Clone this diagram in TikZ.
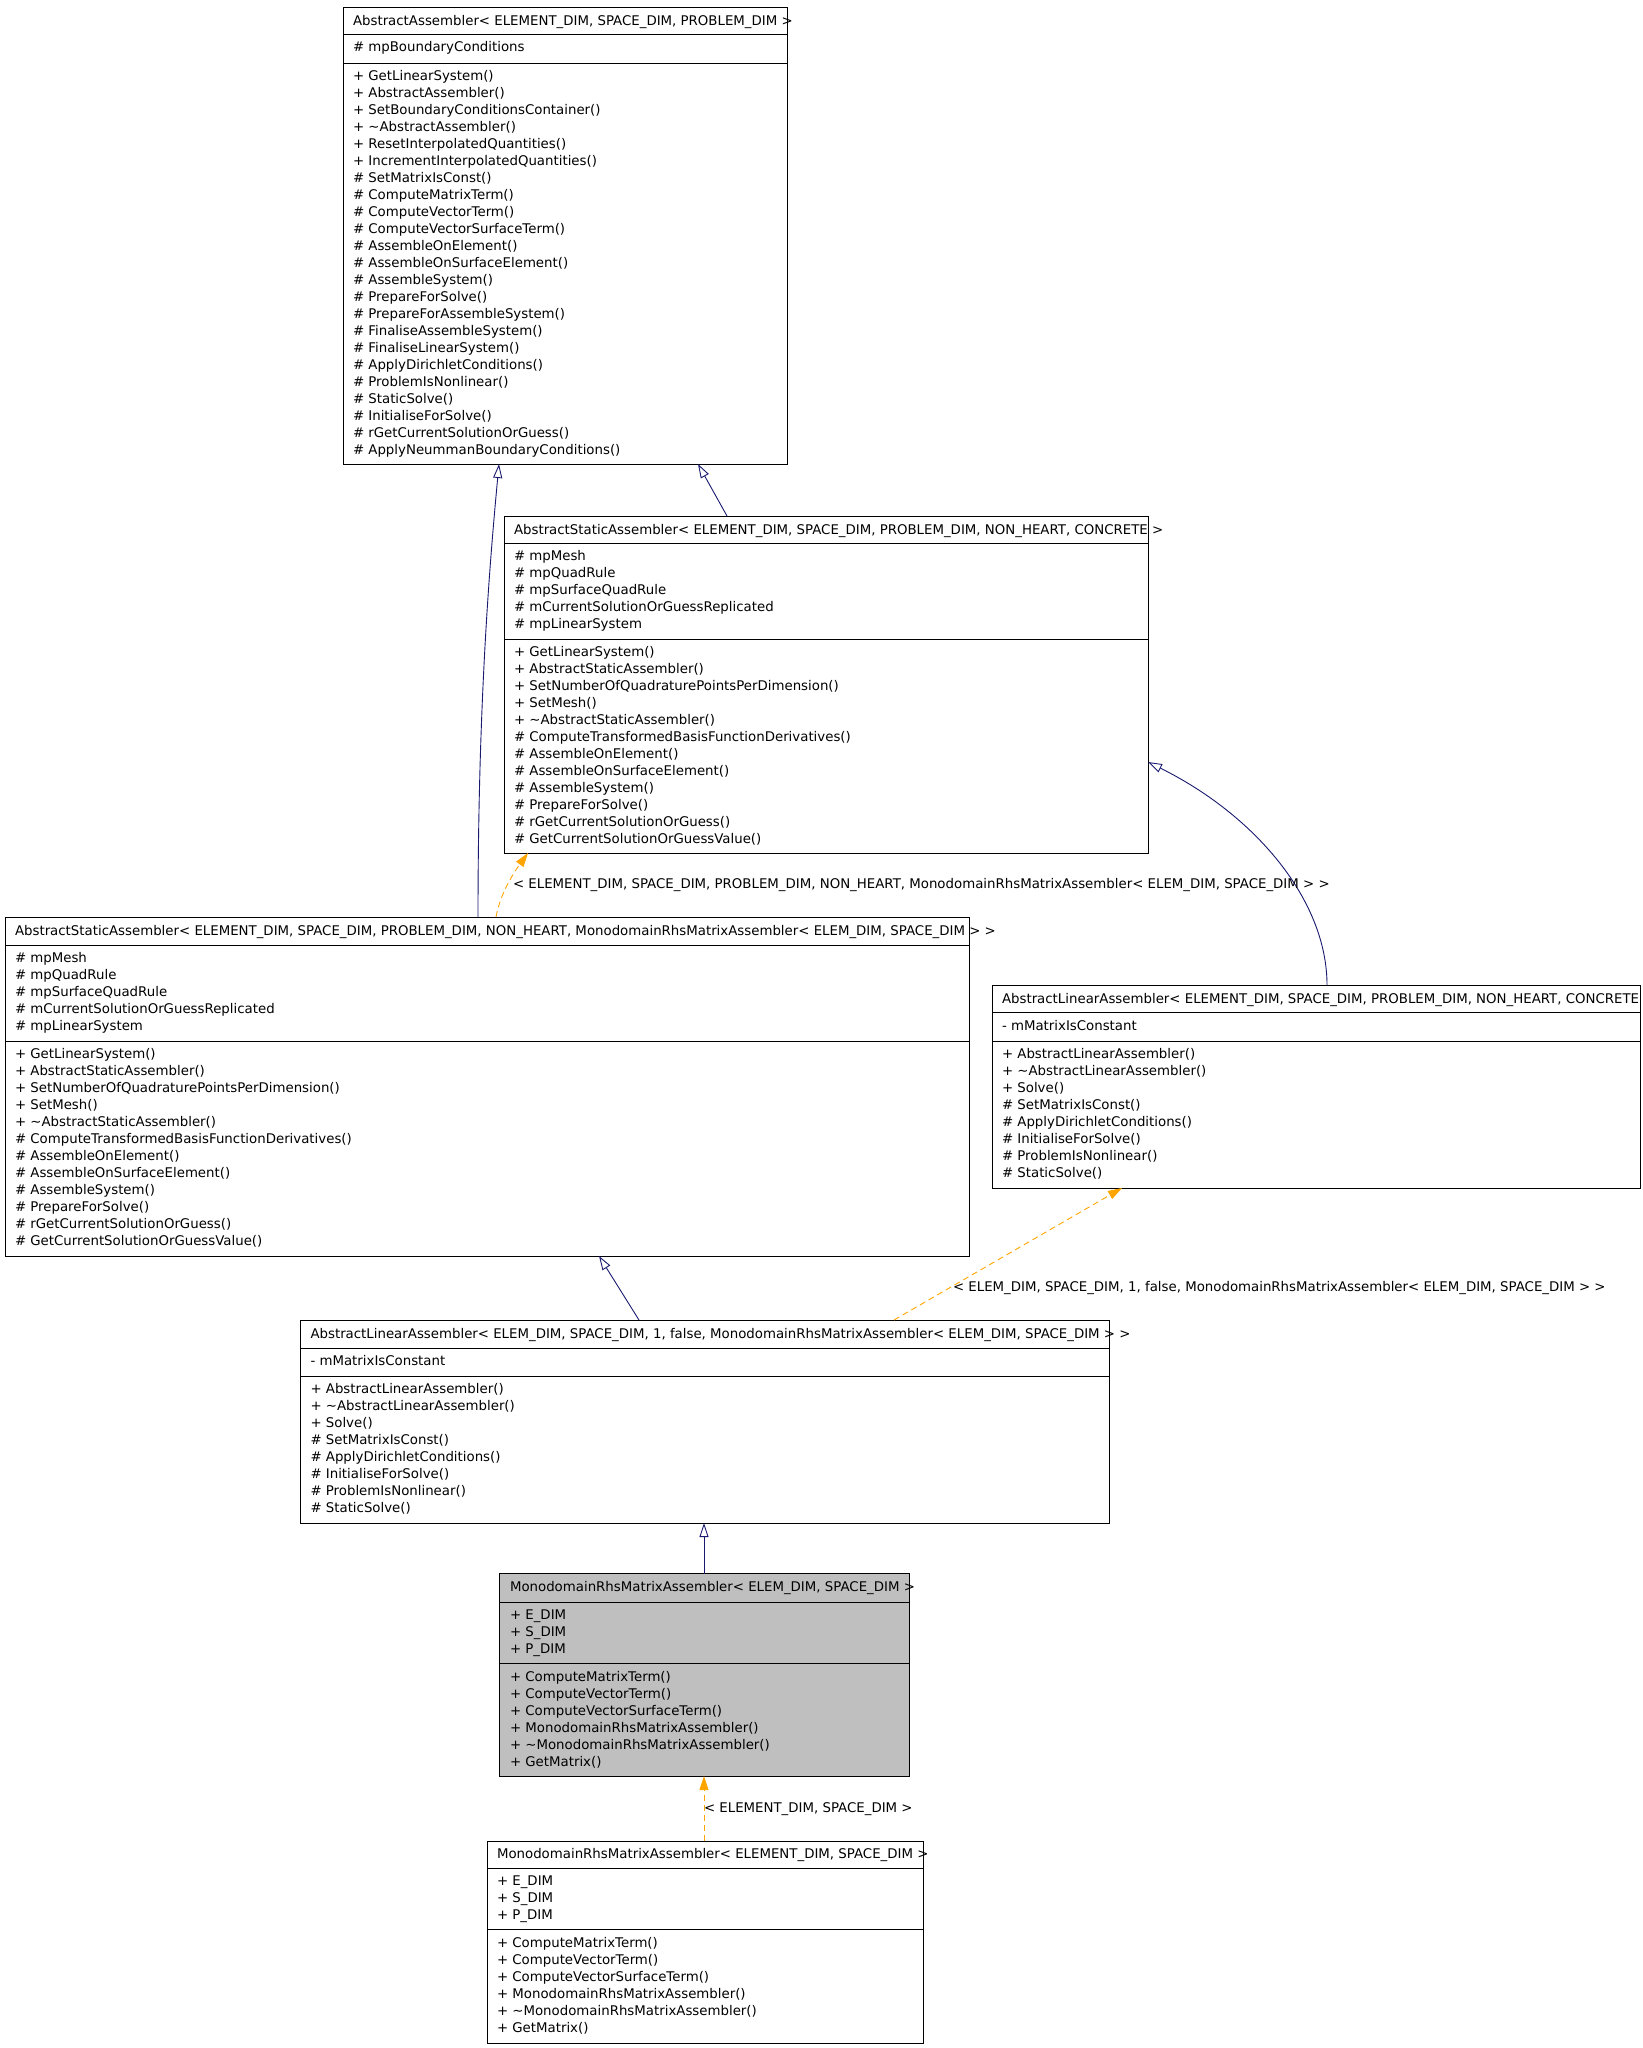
\documentclass[tikz,border=0pt]{standalone}
\usepackage{fontspec}
\setmainfont{DejaVu Sans}
\usetikzlibrary{arrows.meta}
\definecolor{inhblue}{HTML}{191970}
\definecolor{tmplorange}{HTML}{FFA500}
\definecolor{clsgray}{HTML}{BFBFBF}
\tikzset{
  cls/.style={draw=black, line width=1pt, anchor=north west, inner sep=0pt, outer sep=0pt, fill=white},
  sepline/.style={draw=black, line width=1pt},
  txt/.style={anchor=base west, inner sep=0pt, outer sep=0pt, font=\fontsize{13.33pt}{17pt}\selectfont},
  inh/.style={draw=inhblue, line width=0.9pt, -{Triangle[open,fill=white,length=14pt,width=9pt]}},
  tmpl/.style={draw=tmplorange, line width=0.9pt, dash pattern=on 6pt off 4pt, -{Triangle[length=14pt,width=9pt,fill=tmplorange]}}
}
\begin{document}
\begin{tikzpicture}[x=1pt,y=-1pt]
\useasboundingbox (0,0) rectangle (1643,2048);
\clip (0,0) rectangle (1643,2048);

% ---------- Box 1: AbstractAssembler ----------
\node[cls, minimum width=444pt, minimum height=457pt] (b1) at (343,7) {};
\draw[sepline] (b1.west |- 0,34) -- (b1.east |- 0,34);
\draw[sepline] (b1.west |- 0,63) -- (b1.east |- 0,63);
\node[txt] (b1t) at (353,25) {AbstractAssembler< ELEMENT\_DIM, SPACE\_DIM, PROBLEM\_DIM >};
\node[txt] (b1a1) at (353,51.8) {\# mpBoundaryConditions};
\foreach \s [count=\k] in {
  + GetLinearSystem(),
  + AbstractAssembler(),
  + SetBoundaryConditionsContainer(),
  + \textasciitilde AbstractAssembler(),
  + ResetInterpolatedQuantities(),
  + IncrementInterpolatedQuantities(),
  \# SetMatrixIsConst(),
  \# ComputeMatrixTerm(),
  \# ComputeVectorTerm(),
  \# ComputeVectorSurfaceTerm(),
  \# AssembleOnElement(),
  \# AssembleOnSurfaceElement(),
  \# AssembleSystem(),
  \# PrepareForSolve(),
  \# PrepareForAssembleSystem(),
  \# FinaliseAssembleSystem(),
  \# FinaliseLinearSystem(),
  \# ApplyDirichletConditions(),
  \# ProblemIsNonlinear(),
  \# StaticSolve(),
  \# InitialiseForSolve(),
  \# rGetCurrentSolutionOrGuess(),
  \# ApplyNeummanBoundaryConditions()}
  \node[txt] (b1m\k) at (353,{63.8+17*\k}) {\s};

% ---------- Box 2: AbstractStaticAssembler CONCRETE ----------
\node[cls, minimum width=644pt, minimum height=337pt] (b2) at (504,516) {};
\draw[sepline] (b2.west |- 0,543) -- (b2.east |- 0,543);
\draw[sepline] (b2.west |- 0,639) -- (b2.east |- 0,639);
\node[txt] (b2t) at (514,534) {AbstractStaticAssembler< ELEMENT\_DIM, SPACE\_DIM, PROBLEM\_DIM, NON\_HEART, CONCRETE >};
\foreach \s [count=\k] in {
  \# mpMesh,
  \# mpQuadRule,
  \# mpSurfaceQuadRule,
  \# mCurrentSolutionOrGuessReplicated,
  \# mpLinearSystem}
  \node[txt] (b2a\k) at (514,{543.8+17*\k}) {\s};
\foreach \s [count=\k] in {
  + GetLinearSystem(),
  + AbstractStaticAssembler(),
  + SetNumberOfQuadraturePointsPerDimension(),
  + SetMesh(),
  + \textasciitilde AbstractStaticAssembler(),
  \# ComputeTransformedBasisFunctionDerivatives(),
  \# AssembleOnElement(),
  \# AssembleOnSurfaceElement(),
  \# AssembleSystem(),
  \# PrepareForSolve(),
  \# rGetCurrentSolutionOrGuess(),
  \# GetCurrentSolutionOrGuessValue()}
  \node[txt] (b2m\k) at (514,{639.8+17*\k}) {\s};

% ---------- Box 3: AbstractStaticAssembler Monodomain ----------
\node[cls, minimum width=964pt, minimum height=339pt] (b3) at (5,917) {};
\draw[sepline] (b3.west |- 0,945) -- (b3.east |- 0,945);
\draw[sepline] (b3.west |- 0,1041) -- (b3.east |- 0,1041);
\node[txt] (b3t) at (15,935) {AbstractStaticAssembler< ELEMENT\_DIM, SPACE\_DIM, PROBLEM\_DIM, NON\_HEART, MonodomainRhsMatrixAssembler< ELEM\_DIM, SPACE\_DIM > >};
\foreach \s [count=\k] in {
  \# mpMesh,
  \# mpQuadRule,
  \# mpSurfaceQuadRule,
  \# mCurrentSolutionOrGuessReplicated,
  \# mpLinearSystem}
  \node[txt] (b3a\k) at (15,{945.8+17*\k}) {\s};
\foreach \s [count=\k] in {
  + GetLinearSystem(),
  + AbstractStaticAssembler(),
  + SetNumberOfQuadraturePointsPerDimension(),
  + SetMesh(),
  + \textasciitilde AbstractStaticAssembler(),
  \# ComputeTransformedBasisFunctionDerivatives(),
  \# AssembleOnElement(),
  \# AssembleOnSurfaceElement(),
  \# AssembleSystem(),
  \# PrepareForSolve(),
  \# rGetCurrentSolutionOrGuess(),
  \# GetCurrentSolutionOrGuessValue()}
  \node[txt] (b3m\k) at (15,{1041.8+17*\k}) {\s};

% ---------- Box 4: AbstractLinearAssembler CONCRETE ----------
\node[cls, minimum width=648pt, minimum height=203pt] (b4) at (992,985) {};
\draw[sepline] (b4.west |- 0,1012.5) -- (b4.east |- 0,1012.5);
\draw[sepline] (b4.west |- 0,1041) -- (b4.east |- 0,1041);
\node[txt] (b4t) at (1002,1003) {AbstractLinearAssembler< ELEMENT\_DIM, SPACE\_DIM, PROBLEM\_DIM, NON\_HEART, CONCRETE >};
\node[txt] (b4a1) at (1002,1030.3) {- mMatrixIsConstant};
\foreach \s [count=\k] in {
  + AbstractLinearAssembler(),
  + \textasciitilde AbstractLinearAssembler(),
  + Solve(),
  \# SetMatrixIsConst(),
  \# ApplyDirichletConditions(),
  \# InitialiseForSolve(),
  \# ProblemIsNonlinear(),
  \# StaticSolve()}
  \node[txt] (b4m\k) at (1002,{1041.8+17*\k}) {\s};

% ---------- Box 5: AbstractLinearAssembler Monodomain ----------
\node[cls, minimum width=809pt, minimum height=203pt] (b5) at (300.5,1320) {};
\draw[sepline] (b5.west |- 0,1348) -- (b5.east |- 0,1348);
\draw[sepline] (b5.west |- 0,1376) -- (b5.east |- 0,1376);
\node[txt] (b5t) at (310.5,1338) {AbstractLinearAssembler< ELEM\_DIM, SPACE\_DIM, 1, false, MonodomainRhsMatrixAssembler< ELEM\_DIM, SPACE\_DIM > >};
\node[txt] (b5a1) at (310.5,1365.8) {- mMatrixIsConstant};
\foreach \s [count=\k] in {
  + AbstractLinearAssembler(),
  + \textasciitilde AbstractLinearAssembler(),
  + Solve(),
  \# SetMatrixIsConst(),
  \# ApplyDirichletConditions(),
  \# InitialiseForSolve(),
  \# ProblemIsNonlinear(),
  \# StaticSolve()}
  \node[txt] (b5m\k) at (310.5,{1376.8+17*\k}) {\s};

% ---------- Box 6: MonodomainRhsMatrixAssembler (gray) ----------
\node[cls, fill=clsgray, minimum width=410pt, minimum height=202.5pt] (b6) at (499,1573.5) {};
\draw[sepline] (b6.west |- 0,1602) -- (b6.east |- 0,1602);
\draw[sepline] (b6.west |- 0,1663) -- (b6.east |- 0,1663);
\node[txt] (b6t) at (510,1591.5) {MonodomainRhsMatrixAssembler< ELEM\_DIM, SPACE\_DIM >};
\foreach \s [count=\k] in {+ E\_DIM, + S\_DIM, + P\_DIM}
  \node[txt] (b6a\k) at (510,{1602.3+17*\k}) {\s};
\foreach \s [count=\k] in {
  + ComputeMatrixTerm(),
  + ComputeVectorTerm(),
  + ComputeVectorSurfaceTerm(),
  + MonodomainRhsMatrixAssembler(),
  + \textasciitilde MonodomainRhsMatrixAssembler(),
  + GetMatrix()}
  \node[txt] (b6m\k) at (510,{1664+17*\k}) {\s};

% ---------- Box 7: MonodomainRhsMatrixAssembler ----------
\node[cls, minimum width=436pt, minimum height=202pt] (b7) at (487,1841) {};
\draw[sepline] (b7.west |- 0,1868) -- (b7.east |- 0,1868);
\draw[sepline] (b7.west |- 0,1929) -- (b7.east |- 0,1929);
\node[txt] (b7t) at (497,1858.3) {MonodomainRhsMatrixAssembler< ELEMENT\_DIM, SPACE\_DIM >};
\foreach \s [count=\k] in {+ E\_DIM, + S\_DIM, + P\_DIM}
  \node[txt] (b7a\k) at (497,{1868.3+17*\k}) {\s};
\foreach \s [count=\k] in {
  + ComputeMatrixTerm(),
  + ComputeVectorTerm(),
  + ComputeVectorSurfaceTerm(),
  + MonodomainRhsMatrixAssembler(),
  + \textasciitilde MonodomainRhsMatrixAssembler(),
  + GetMatrix()}
  \node[txt] (b7m\k) at (497,{1930+17*\k}) {\s};

% ---------- Connectors ----------
\draw[inh] ([xshift=223pt]b2.north west) -- ([xshift=355pt]b1.south west);
\draw[inh] ([xshift=473pt]b3.north west) .. controls (478,700) and (490,560) .. ([xshift=156pt]b1.south west);
\draw[tmpl] ([xshift=491pt]b3.north west) .. controls (500,895) and (512,875) .. ([xshift=24pt]b2.south west);
\draw[inh] ([xshift=335pt]b4.north west) .. controls (1327,900) and (1255,815) .. ([yshift=-246pt]b2.north east);
\draw[inh] ([xshift=338.5pt]b5.north west) -- ([xshift=594pt]b3.south west);
\draw[tmpl] ([xshift=593.5pt]b5.north west) -- ([xshift=130pt]b4.south west);
\draw[inh] ([xshift=205pt]b6.north west) -- ([xshift=403.5pt]b5.south west);
\draw[tmpl] ([xshift=217pt]b7.north west) -- ([xshift=205pt]b6.south west);

% ---------- Connector labels ----------
\node[txt] (l1) at (513,888) {< ELEMENT\_DIM, SPACE\_DIM, PROBLEM\_DIM, NON\_HEART, MonodomainRhsMatrixAssembler< ELEM\_DIM, SPACE\_DIM > >};
\node[txt] (l2) at (953,1291.5) {< ELEM\_DIM, SPACE\_DIM, 1, false, MonodomainRhsMatrixAssembler< ELEM\_DIM, SPACE\_DIM > >};
\node[txt] (l3) at (704,1812) {< ELEMENT\_DIM, SPACE\_DIM >};
\end{tikzpicture}
\end{document}
